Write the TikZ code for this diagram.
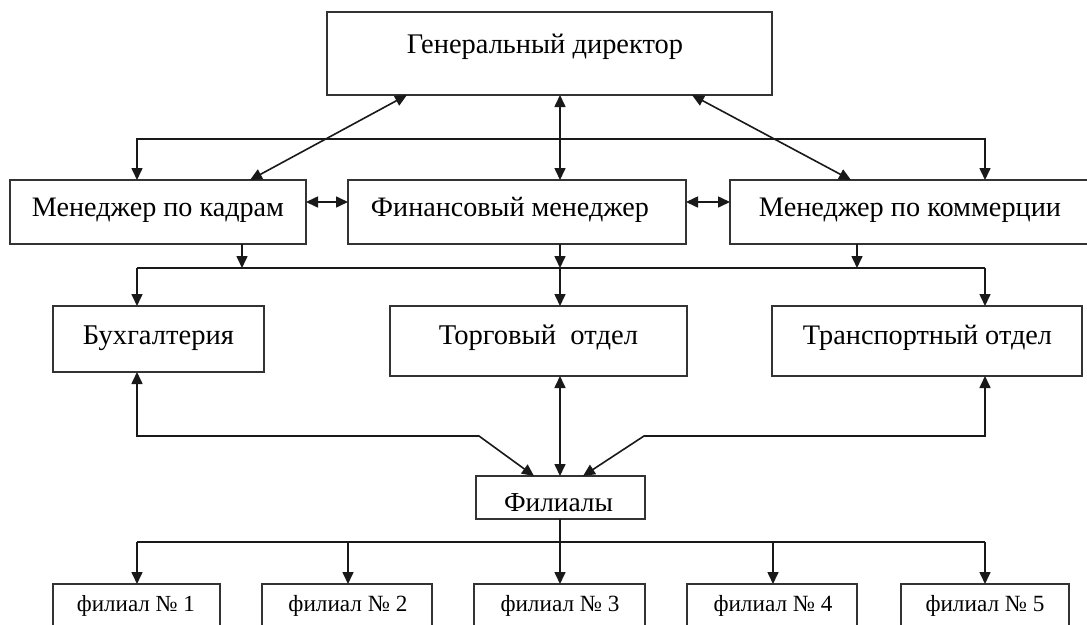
\documentclass[tikz,border=0pt]{standalone}
\usepackage{fontspec}
\setmainfont{Liberation Serif}
\usepackage{graphicx}
\usetikzlibrary{arrows.meta,calc}
\newcommand\fitt[2]{\resizebox{#1pt}{!}{#2}}
\begin{document}
\begin{tikzpicture}[x=1pt,y=-1pt,
  box/.style={draw=black!80,line width=1.9pt,inner sep=0pt,outer sep=0pt,fill=white},
  lbl/.style={anchor=base,inner sep=0pt,text=black},
  conn/.style={draw=black!90,line width=1.6pt},
  tip/.style={-{Triangle[width=11pt,length=12pt]}},
  tips/.style={{Triangle[width=11pt,length=12pt]}-{Triangle[width=11pt,length=12pt]}}]
\path[use as bounding box,fill=white] (0,0) rectangle (1087,624);
\clip (0,0) rectangle (1087,624);
% boxes
\node[box,minimum width=445pt,minimum height=83pt] (gd) at (549.5,53.5) {};
\node[box,minimum width=296pt,minimum height=64pt] (m1) at (158,212) {};
\node[box,minimum width=338pt,minimum height=64pt] (m2) at (517,212) {};
\node[box,minimum width=362pt,minimum height=64pt] (m3) at (911,212) {};
\node[box,minimum width=211pt,minimum height=66pt] (b) at (158.5,339) {};
\node[box,minimum width=297pt,minimum height=70pt] (t) at (538.5,341) {};
\node[box,minimum width=310pt,minimum height=70pt] (tr) at (927,341) {};
\node[box,minimum width=169pt,minimum height=43pt] (fl) at (560.5,497.5) {};
\node[box,minimum width=167pt,minimum height=56pt] (f1) at (136.5,612) {};
\node[box,minimum width=170pt,minimum height=56pt] (f2) at (347,612) {};
\node[box,minimum width=171pt,minimum height=56pt] (f3) at (559.5,612) {};
\node[box,minimum width=170pt,minimum height=56pt] (f4) at (772,612) {};
\node[box,minimum width=168pt,minimum height=56pt] (f5) at (985,612) {};
% labels
\node[lbl] (gdt) at (545,53) {\fitt{276}{Генеральный директор}};
\node[lbl] (m1t) at (158,216) {\fitt{252}{Менеджер по кадрам}};
\node[lbl] (m2t) at (510,216) {\fitt{278}{Финансовый менеджер}};
\node[lbl] (m3t) at (910,216) {\fitt{302}{Менеджер по коммерции}};
\node[lbl] (bt) at (158.5,344) {\fitt{151}{Бухгалтерия}};
\node[lbl] (tt) at (538.5,344) {\fitt{199}{Торговый\ \ отдел}};
\node[lbl] (trt) at (927.5,344) {\fitt{249}{Транспортный отдел}};
\node[lbl] (flt) at (558.5,511) {\fitt{109}{Филиалы}};
\node[lbl] (f1t) at (136,611) {\fitt{118}{филиал № 1}};
\node[lbl] (f2t) at (348,611) {\fitt{119}{филиал № 2}};
\node[lbl] (f3t) at (560,611) {\fitt{119}{филиал № 3}};
\node[lbl] (f4t) at (773,611) {\fitt{119}{филиал № 4}};
\node[lbl] (f5t) at (985,611) {\fitt{119}{филиал № 5}};
% director to managers
\draw[conn,tips] ($(gd.south west)+(80,0)$) -- ($(m1.north west)+(240,0)$);
\draw[conn,tips] ($(gd.south west)+(233,0)$) -- ($(m2.north west)+(212,0)$);
\draw[conn,tips] ($(gd.south west)+(365,0)$) -- ($(m3.north west)+(121,0)$);
\coordinate (bus1L) at (137,139);
\coordinate (bus1R) at (985,139);
\draw[conn,tips] ($(m1.north west)+(127,0)$) -- (bus1L) -- (bus1R) -- ($(m3.north west)+(255,0)$);
\draw[conn,tips] ($(m1.north east)+(0,22)$) -- ($(m2.north west)+(0,22)$);
\draw[conn,tips] ($(m2.north east)+(0,22)$) -- ($(m3.north west)+(0,22)$);
% managers to departments
\coordinate (bus2L) at (137,268);
\coordinate (bus2R) at (985,268);
\coordinate (m1b) at ($(m1.south west)+(232,0)$);
\coordinate (m2b) at ($(m2.south west)+(212,0)$);
\coordinate (m3b) at ($(m3.south west)+(127,0)$);
\draw[conn,tip] (m1b) -- (m1b |- bus2L);
\draw[conn,tip] (m2b) -- (m2b |- bus2L);
\draw[conn,tip] (m3b) -- (m3b |- bus2L);
\draw[conn] (bus2L) -- (bus2R);
\coordinate (bT) at ($(b.north west)+(84,0)$);
\coordinate (tT) at ($(t.north west)+(170,0)$);
\coordinate (trT) at ($(tr.north west)+(213,0)$);
\draw[conn,tip] (bT |- bus2L) -- (bT);
\draw[conn,tip] (tT |- bus2L) -- (tT);
\draw[conn,tip] (trT |- bus2L) -- (trT);
% departments to branches
\coordinate (lb1) at (137,436);
\coordinate (lb2) at (479,436);
\coordinate (rb1) at (985,436);
\coordinate (rb2) at (644,436);
\draw[conn,tips] ($(b.south west)+(84,0)$) -- (lb1) -- (lb2) -- ($(fl.north west)+(58,0)$);
\draw[conn,tips] ($(t.south west)+(170,0)$) -- ($(fl.north west)+(84,0)$);
\draw[conn,tips] ($(tr.south west)+(213,0)$) -- (rb1) -- (rb2) -- ($(fl.north west)+(107,0)$);
% branches
\coordinate (bus3L) at (137,542);
\coordinate (bus3R) at (985,542);
\coordinate (flB) at ($(fl.south west)+(84,0)$);
\draw[conn] (flB) -- (flB |- bus3L);
\draw[conn] (bus3L) -- (bus3R);
\coordinate (f1T) at ($(f1.north west)+(84,0)$);
\coordinate (f2T) at ($(f2.north west)+(86,0)$);
\coordinate (f3T) at ($(f3.north west)+(86,0)$);
\coordinate (f4T) at ($(f4.north west)+(86,0)$);
\coordinate (f5T) at ($(f5.north west)+(84,0)$);
\draw[conn,tip] (f1T |- bus3L) -- (f1T);
\draw[conn,tip] (f2T |- bus3L) -- (f2T);
\draw[conn,tip] (f3T |- bus3L) -- (f3T);
\draw[conn,tip] (f4T |- bus3L) -- (f4T);
\draw[conn,tip] (f5T |- bus3L) -- (f5T);
\end{tikzpicture}
\end{document}
